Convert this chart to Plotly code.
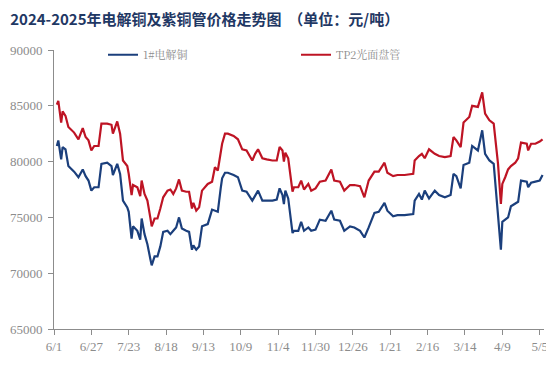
import plotly.graph_objects as go

dates = [
    "2024-06-03", "2024-06-04", "2024-06-06", "2024-06-07", "2024-06-09", "2024-06-11", "2024-06-15", "2024-06-18",
    "2024-06-21", "2024-06-23", "2024-06-25", "2024-06-27", "2024-06-29", "2024-07-02", "2024-07-04", "2024-07-08",
    "2024-07-11", "2024-07-12", "2024-07-15", "2024-07-17", "2024-07-19", "2024-07-22", "2024-07-23", "2024-07-25",
    "2024-07-26", "2024-07-29", "2024-07-31", "2024-08-01", "2024-08-03", "2024-08-05", "2024-08-07", "2024-08-08",
    "2024-08-10", "2024-08-12", "2024-08-14", "2024-08-16", "2024-08-19", "2024-08-21", "2024-08-23", "2024-08-25",
    "2024-08-27", "2024-08-29", "2024-09-01", "2024-09-03", "2024-09-05", "2024-09-06", "2024-09-08", "2024-09-10",
    "2024-09-12", "2024-09-16", "2024-09-19", "2024-09-21", "2024-09-23", "2024-09-25", "2024-09-26", "2024-09-28",
    "2024-09-30", "2024-10-04", "2024-10-07", "2024-10-10", "2024-10-13", "2024-10-17", "2024-10-19", "2024-10-21",
    "2024-10-24", "2024-10-27", "2024-10-31", "2024-11-03", "2024-11-05", "2024-11-07", "2024-11-08", "2024-11-09",
    "2024-11-11", "2024-11-14", "2024-11-15", "2024-11-18", "2024-11-20", "2024-11-22", "2024-11-25", "2024-11-27",
    "2024-11-30", "2024-12-03", "2024-12-07", "2024-12-11", "2024-12-13", "2024-12-17", "2024-12-20", "2024-12-24",
    "2024-12-27", "2024-12-31", "2025-01-03", "2025-01-06", "2025-01-10", "2025-01-13", "2025-01-17", "2025-01-19",
    "2025-01-23", "2025-01-26", "2025-01-31", "2025-02-06", "2025-02-07", "2025-02-10", "2025-02-12", "2025-02-14",
    "2025-02-17", "2025-02-21", "2025-02-24", "2025-02-28", "2025-03-04", "2025-03-06", "2025-03-08", "2025-03-11",
    "2025-03-13", "2025-03-17", "2025-03-19", "2025-03-23", "2025-03-26", "2025-03-28", "2025-03-31", "2025-04-03",
    "2025-04-06", "2025-04-08", "2025-04-09", "2025-04-11", "2025-04-13", "2025-04-15", "2025-04-18", "2025-04-20",
    "2025-04-22", "2025-04-26", "2025-04-27", "2025-04-29", "2025-05-02", "2025-05-05", "2025-05-07",
]

copper = [
    81400, 81900, 80200, 81300, 81100, 79600, 79100, 78600,
    79300, 78700, 78300, 77400, 77700, 77700, 79800, 79900,
    79600, 78800, 79800, 78900, 76500, 75900, 75500, 73100,
    74200, 73800, 73000, 74900, 73500, 72600, 71300, 70700,
    71500, 71500, 72400, 73700, 73800, 73500, 73800, 74100,
    75000, 74000, 73800, 73700, 72100, 72500, 72100, 72400,
    74200, 74400, 75700, 75600, 75500, 77600, 78500, 79000,
    79000, 78800, 78600, 77400, 77300, 76500, 77000, 77400,
    76500, 76500, 76500, 76600, 77600, 77000, 76200, 77400,
    76700, 73600, 73800, 73800, 74600, 73800, 74100, 73800,
    73900, 74800, 74700, 75600, 74800, 74700, 73800, 74200,
    74100, 73800, 73200, 74100, 75400, 75500, 76300, 75600,
    75100, 75200, 75200, 75300, 76500, 77100, 76600, 77400,
    76700, 77400, 77000, 76800, 77000, 78900, 78700, 77600,
    79700, 79900, 81400, 81000, 82800, 80700, 80100, 79800,
    75300, 72100, 74600, 74800, 75000, 76000, 76200, 76400,
    78300, 78200, 77700, 78100, 78200, 78300, 78800,
]

tube = [
    85100, 85450, 83500, 84500, 84100, 83100, 82600, 82000,
    83000, 82200, 81900, 81000, 81400, 81400, 83400, 83400,
    83300, 82500, 83600, 82500, 80100, 79600, 78900, 77000,
    77900, 77700, 76900, 78300, 77100, 76500, 75000, 74200,
    74900, 74900, 75800, 76800, 77400, 77500, 77100, 77600,
    78400, 77400, 77300, 77300, 75800, 76300, 75600, 75900,
    77400, 78000, 78200, 79500, 79200, 81100, 81600, 82500,
    82500, 82300, 82000, 81100, 81000, 80100, 80700, 81100,
    80300, 80200, 80100, 80100, 81300, 81000, 80000, 80800,
    80300, 77300, 77700, 77700, 78300, 77500, 78000, 77400,
    77600, 78200, 78300, 79300, 78300, 78200, 77400, 77900,
    77900, 77800, 76800, 78300, 79100, 79100, 79900, 79000,
    78700, 78800, 78800, 78900, 80100, 80500, 80700, 80300,
    81100, 80700, 80500, 80400, 80500, 82200, 81900, 81300,
    83500, 84000, 85000, 84900, 86200, 84300, 83700, 83400,
    79800, 76200, 78000, 78600, 79300, 79600, 79900, 80300,
    81700, 81600, 81000, 81600, 81600, 81800, 82000,
]

tick_dates = [
    "2024-06-01", "2024-06-27", "2024-07-23", "2024-08-18", "2024-09-13", "2024-10-09", "2024-11-04",
    "2024-11-30", "2024-12-26", "2025-01-21", "2025-02-16", "2025-03-14", "2025-04-09", "2025-05-05",
]
tick_labels = ["6/1", "6/27", "7/23", "8/18", "9/13", "10/9", "11/4",
               "11/30", "12/26", "1/21", "2/16", "3/14", "4/9", "5/5"]
y_ticks = [65000, 70000, 75000, 80000, 85000, 90000]
y_labels = ["65000", "70000", "75000", "80000", "85000", "90000"]

series_names = ["1#电解铜", "TP2光面盘管"]

fig = go.Figure()
fig.add_trace(go.Scatter(x=dates, y=copper, mode="lines", name=series_names[0],
                         line=dict(color="#1B3F7C", width=2.2)))
fig.add_trace(go.Scatter(x=dates, y=tube, mode="lines", name=series_names[1],
                         line=dict(color="#BE1424", width=2.2)))

axis_font = dict(family="Liberation Serif, Times New Roman, serif", size=13, color="#8C8C8C")

fig.update_layout(
    width=554, height=365,
    margin=dict(l=46, r=18, t=42, b=44),
    paper_bgcolor="white", plot_bgcolor="white",
    title=dict(text="<b>2024-2025年电解铜及紫铜管价格走势图  （单位：元/吨）</b>",
               x=0.004, xanchor="left", y=0.982, yanchor="top",
               font=dict(family="Noto Sans CJK SC, sans-serif", size=15, color="#1F3864")),
    showlegend=True,
    legend=dict(orientation="h", x=0.1, xanchor="left", y=1.035, yanchor="top",
                bgcolor="rgba(0,0,0,0)", entrywidth=148, entrywidthmode="pixels",
                font=dict(family="Noto Serif CJK SC, Noto Sans CJK SC, serif", size=11, color="#8C8C8C")),
    xaxis=dict(type="date", range=["2024-06-01", "2025-05-08"], automargin=False,
               tickmode="array", tickvals=tick_dates, ticktext=tick_labels,
               showgrid=False, zeroline=False, showline=True, linecolor="#8C8C8C", linewidth=1,
               ticks="outside", ticklen=5, tickcolor="#8C8C8C", tickfont=axis_font),
    yaxis=dict(range=[65000, 90000], tickmode="array", tickvals=y_ticks, ticktext=y_labels,
               automargin=False, ticklabelstandoff=3,
               showgrid=False, zeroline=False, showline=True, linecolor="#8C8C8C", linewidth=1,
               ticks="outside", ticklen=5, tickcolor="#8C8C8C", tickfont=axis_font),
)

fig.write_html("out.html")
